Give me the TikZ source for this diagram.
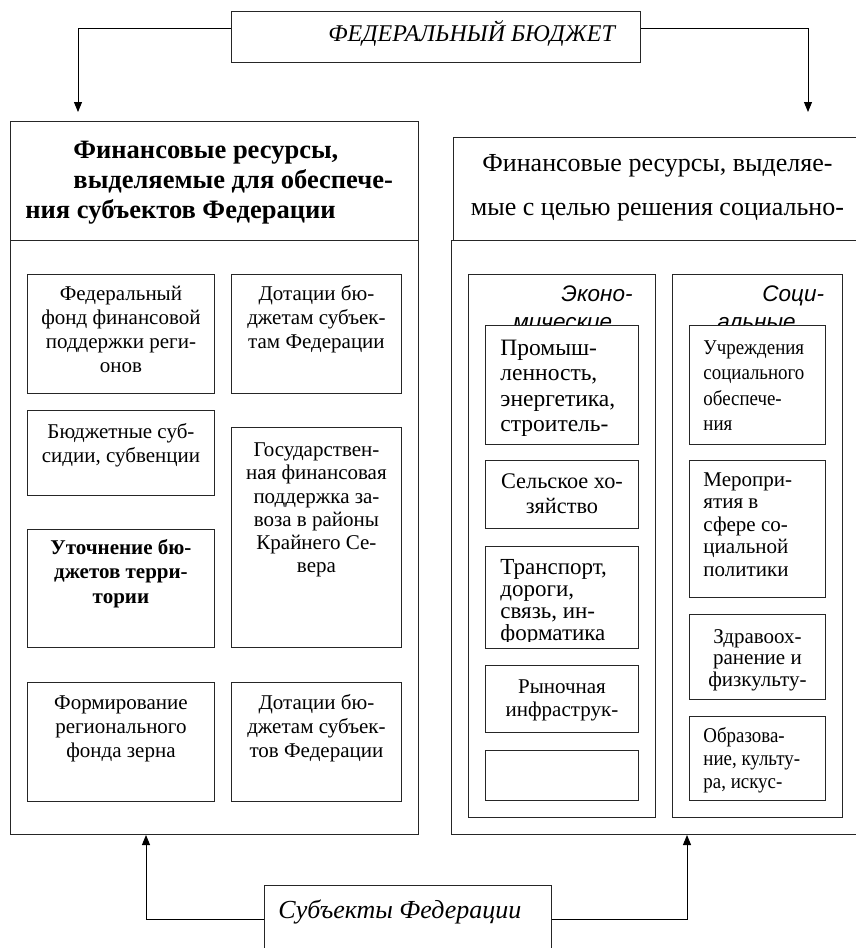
\documentclass[tikz,border=0pt]{standalone}
\usepackage{fontspec}
\setmainfont{Liberation Serif}
\setsansfont{Liberation Sans}
\newfontfamily\narrowfont[FakeStretch=0.9]{Liberation Serif}
\usetikzlibrary{arrows.meta}

% text set from the top edge of a box: width, height, layout, first baseline, text
\newcommand{\boxtext}[5]{\parbox[c][#2][t]{#1}{#3\rule{0pt}{#4}#5}}

\begin{document}
\begin{tikzpicture}[
    x=1bp, y=-1bp,
    >={Triangle[length=10bp, width=8bp]},
    line width=0.9bp,
    box/.style={draw=black!85, fill=white, anchor=north west, inner sep=0pt},
    cell/.style={box, font=\fontsize{21bp}{24bp}\selectfont},
    ecell/.style={box, font=\fontsize{23.5bp}{25.5bp}\selectfont},
    head/.style={box, font=\sffamily\itshape\fontsize{22.5bp}{28bp}\selectfont}
  ]
  \useasboundingbox (0,0) rectangle (856,948);
  \clip (0,0) rectangle (856,948);

  % Source
  \node[box, font=\itshape\fontsize{24bp}{28bp}\selectfont] (fb) at (231,11)
    {\boxtext{409bp}{51bp}{\raggedright\leftskip=97bp}{30bp}{ФЕДЕРАЛЬНЫЙ БЮДЖЕТ}};

  % Left block
  \node[box, minimum width=408bp, minimum height=594bp] (lbody) at (10,240) {};
  \node[box, font=\bfseries\fontsize{26.5bp}{30bp}\selectfont] (lhead) at (10,121)
    {\boxtext{408bp}{119bp}{\raggedright\leftskip=15bp}{37bp}{\hspace*{48bp}Финансовые ресурсы,\\
      \hspace*{48bp}выделяемые для обеспече-\\ния субъектов Федерации}};

  \node[cell] (fond) at (27,274)
    {\boxtext{187bp}{119bp}{\centering}{26bp}{Федеральный\\фонд финансовой\\поддержки реги-\\онов}};
  \node[cell] (dot1) at (231,274)
    {\boxtext{170bp}{119bp}{\centering}{26bp}{Дотации бю-\\джетам субъек-\\там Федерации}};
  \node[cell] (subs) at (27,410)
    {\boxtext{187bp}{85bp}{\centering}{28bp}{Бюджетные суб-\\сидии, субвенции}};
  \node[cell, font=\fontsize{21bp}{23.3bp}\selectfont] (zavoz) at (231,427)
    {\boxtext{170bp}{220bp}{\centering}{29bp}{Государствен-\\ная финансовая\\поддержка за-\\воза в районы\\Крайнего Се-\\вера}};
  \node[cell, font=\bfseries\fontsize{21bp}{24.5bp}\selectfont] (utoch) at (27,529)
    {\boxtext{187bp}{118bp}{\centering}{25bp}{Уточнение бю-\\джетов терри-\\тории}};
  \node[cell] (zerno) at (27,682)
    {\boxtext{187bp}{119bp}{\centering}{27bp}{Формирование\\регионального\\фонда зерна}};
  \node[cell] (dot2) at (231,682)
    {\boxtext{170bp}{119bp}{\centering}{27bp}{Дотации бю-\\джетам субъек-\\тов Федерации}};

  % Right block
  \node[box, minimum width=410bp, minimum height=594bp] (rbody) at (451,240) {};
  \node[box, font=\fontsize{26bp}{44bp}\selectfont] (rhead) at (453,137)
    {\boxtext{408bp}{103bp}{\centering}{34bp}{Финансовые ресурсы, выделяе-\\мые с целью решения социально-}};

  \node[head] (econ) at (468,274)
    {\boxtext{187bp}{543bp}{\raggedright\leftskip=45bp}{27bp}{\hspace*{48bp}Эконо-\\мические}};
  \node[head] (soc) at (672,274)
    {\boxtext{170bp}{543bp}{\raggedright\leftskip=45bp}{27bp}{\hspace*{45bp}Соци-\\альные}};

  % Economic column
  \node[ecell] (prom) at (485,325)
    {\boxtext{153bp}{119bp}{\raggedright\leftskip=15bp}{30bp}{Промыш-\\ленность,\\энергетика,\\строитель-}};
  \node[ecell, font=\fontsize{22.3bp}{25bp}\selectfont] (selh) at (485,460)
    {\boxtext{153bp}{68bp}{\centering}{28bp}{Сельское хо-\\зяйство}};
  \node[box, minimum width=153bp, minimum height=102bp] (trans) at (485,546) {};
  \begin{scope}
    \clip (trans.north west) rectangle ([yshift=7bp]trans.south east);
    \node[ecell, draw=none, fill=none, font=\fontsize{23bp}{22bp}\selectfont] (transtxt) at (trans.north west)
      {\boxtext{153bp}{102bp}{\raggedright\leftskip=15bp}{28bp}{Транспорт,\\дороги,\\связь, ин-\\форматика}};
  \end{scope}
  \node[ecell, font=\fontsize{21bp}{23bp}\selectfont] (rynok) at (485,665)
    {\boxtext{153bp}{67bp}{\centering}{28bp}{Рыночная\\инфраструк-}};
  \node[box, minimum width=153bp, minimum height=50bp] (blank) at (485,750) {};

  % Social column
  \node[ecell, font=\narrowfont\fontsize{21bp}{25.5bp}\selectfont] (uchr) at (689,325)
    {\boxtext{136bp}{119bp}{\raggedright\leftskip=14bp}{29bp}{Учреждения\\социального\\обеспече-\\ния}};
  \node[ecell, font=\fontsize{21bp}{22.5bp}\selectfont] (merop) at (689,460)
    {\boxtext{136bp}{137bp}{\raggedright\leftskip=14bp}{26bp}{Меропри-\\ятия в\\сфере со-\\циальной\\политики}};
  \node[ecell, font=\fontsize{21bp}{21.5bp}\selectfont] (zdrav) at (689,614)
    {\boxtext{136bp}{85bp}{\centering}{29bp}{Здравоох-\\ранение и\\физкульту-}};
  \node[ecell, font=\narrowfont\fontsize{21bp}{23bp}\selectfont] (obraz) at (689,716)
    {\boxtext{136bp}{84bp}{\raggedright\leftskip=14bp}{26bp}{Образова-\\ние, культу-\\ра, искус-}};

  % Receivers
  \node[box, font=\itshape\fontsize{26bp}{30bp}\selectfont] (subj) at (264,885)
    {\boxtext{287bp}{80bp}{\raggedright\leftskip=14bp}{33bp}{Субъекты Федерации}};

  % Connectors
  \coordinate (tipL) at (78,112);
  \coordinate (tipR) at (808,112);
  \coordinate (tipBL) at (146,835);
  \coordinate (tipBR) at (687,835);
  \draw[->] ([yshift=-17bp]fb.north west) -| (tipL);
  \draw[->] ([yshift=-17bp]fb.north east) -| (tipR);
  \draw[->] ([yshift=-34bp]subj.north west) -| (tipBL);
  \draw[->] ([yshift=-34bp]subj.north east) -| (tipBR);
\end{tikzpicture}
\end{document}
